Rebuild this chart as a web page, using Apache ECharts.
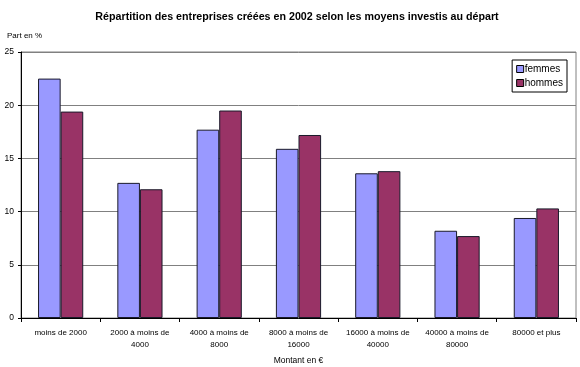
<!DOCTYPE html>
<html>
<head>
<meta charset="utf-8">
<script src="https://cdn.jsdelivr.net/npm/echarts@6/dist/echarts.min.js"></script>
<style>html,body{margin:0;padding:0;background:#fff;}#c{width:580px;height:367px;}</style>
</head>
<body>
<div id="c"></div>
<script>
var categories = ["moins de 2000", "2000 à moins de\n4000", "4000 à moins de\n8000", "8000 à moins de\n16000", "16000 à moins de\n40000", "40000 à moins de\n80000", "80000 et plus"];
var femmes = [22.5, 12.7, 17.7, 15.9, 13.6, 8.2, 9.4];
var hommes = [19.4, 12.1, 19.5, 17.2, 13.8, 7.7, 10.3];
var yTicks = [0, 5, 10, 15, 20, 25];

var font = 'Liberation Sans, Arial, sans-serif';
var chart = echarts.init(document.getElementById('c'), null, {renderer: 'canvas'});
chart.setOption({
  animation: false,
  backgroundColor: '#ffffff',
  title: {
    text: 'Répartition des entreprises créées en 2002 selon les moyens investis au départ',
    left: 297, top: 12, textAlign: 'center', padding: 0,
    textStyle: {fontFamily: font, fontSize: 10.7, fontWeight: 'bold', color: '#000'}
  },
  graphic: [
    {type: 'text', left: 7, top: 32, style: {text: 'Part en %', font: '8px ' + font, fill: '#000'}},
  ],
  legend: {
    orient: 'vertical', right: 13, top: 60,
    itemWidth: 7, itemHeight: 7, itemGap: 4, padding: [4, 4, 4, 4],
    borderColor: '#000', borderWidth: 1,
    icon: 'rect',
    itemStyle: {borderColor: '#000', borderWidth: 1},
    textStyle: {fontFamily: font, fontSize: 10, color: '#000', padding: [0, 0, 0, -4]},
    data: ['femmes', 'hommes']
  },
  grid: {left: 21, right: 4, top: 52, bottom: 49, show: true, borderColor: '#808080', borderWidth: 1, outerBoundsMode: 'none', containLabel: false},
  xAxis: {
    type: 'category', data: categories,
    name: 'Montant en €', nameLocation: 'middle', nameGap: 38,
    nameTextStyle: {fontFamily: font, fontSize: 8.5, color: '#000'},
    axisLine: {lineStyle: {color: '#000', width: 1}},
    axisTick: {show: true, alignWithLabel: false, length: 4, lineStyle: {color: '#000'}},
    axisLabel: {fontFamily: font, fontSize: 8, color: '#000', margin: 9, lineHeight: 12, interval: 0}
  },
  yAxis: {
    type: 'value', min: yTicks[0], max: yTicks[yTicks.length - 1], interval: 5,
    axisLine: {show: true, lineStyle: {color: '#000', width: 1}},
    axisTick: {show: true, length: 3, lineStyle: {color: '#000'}},
    axisLabel: {fontFamily: font, fontSize: 8.5, color: '#000', margin: 7},
    splitLine: {show: true, lineStyle: {color: '#808080', width: 1}}
  },
  series: [
    {name: 'femmes', type: 'bar', data: femmes, barGap: '0%', barCategoryGap: '43%',
     itemStyle: {color: '#9999FF', borderColor: '#1a1a2a', borderWidth: 1}},
    {name: 'hommes', type: 'bar', data: hommes, barGap: '0%', barCategoryGap: '43%',
     itemStyle: {color: '#993366', borderColor: '#1a1a2a', borderWidth: 1}}
  ]
});
</script>
</body>
</html>
